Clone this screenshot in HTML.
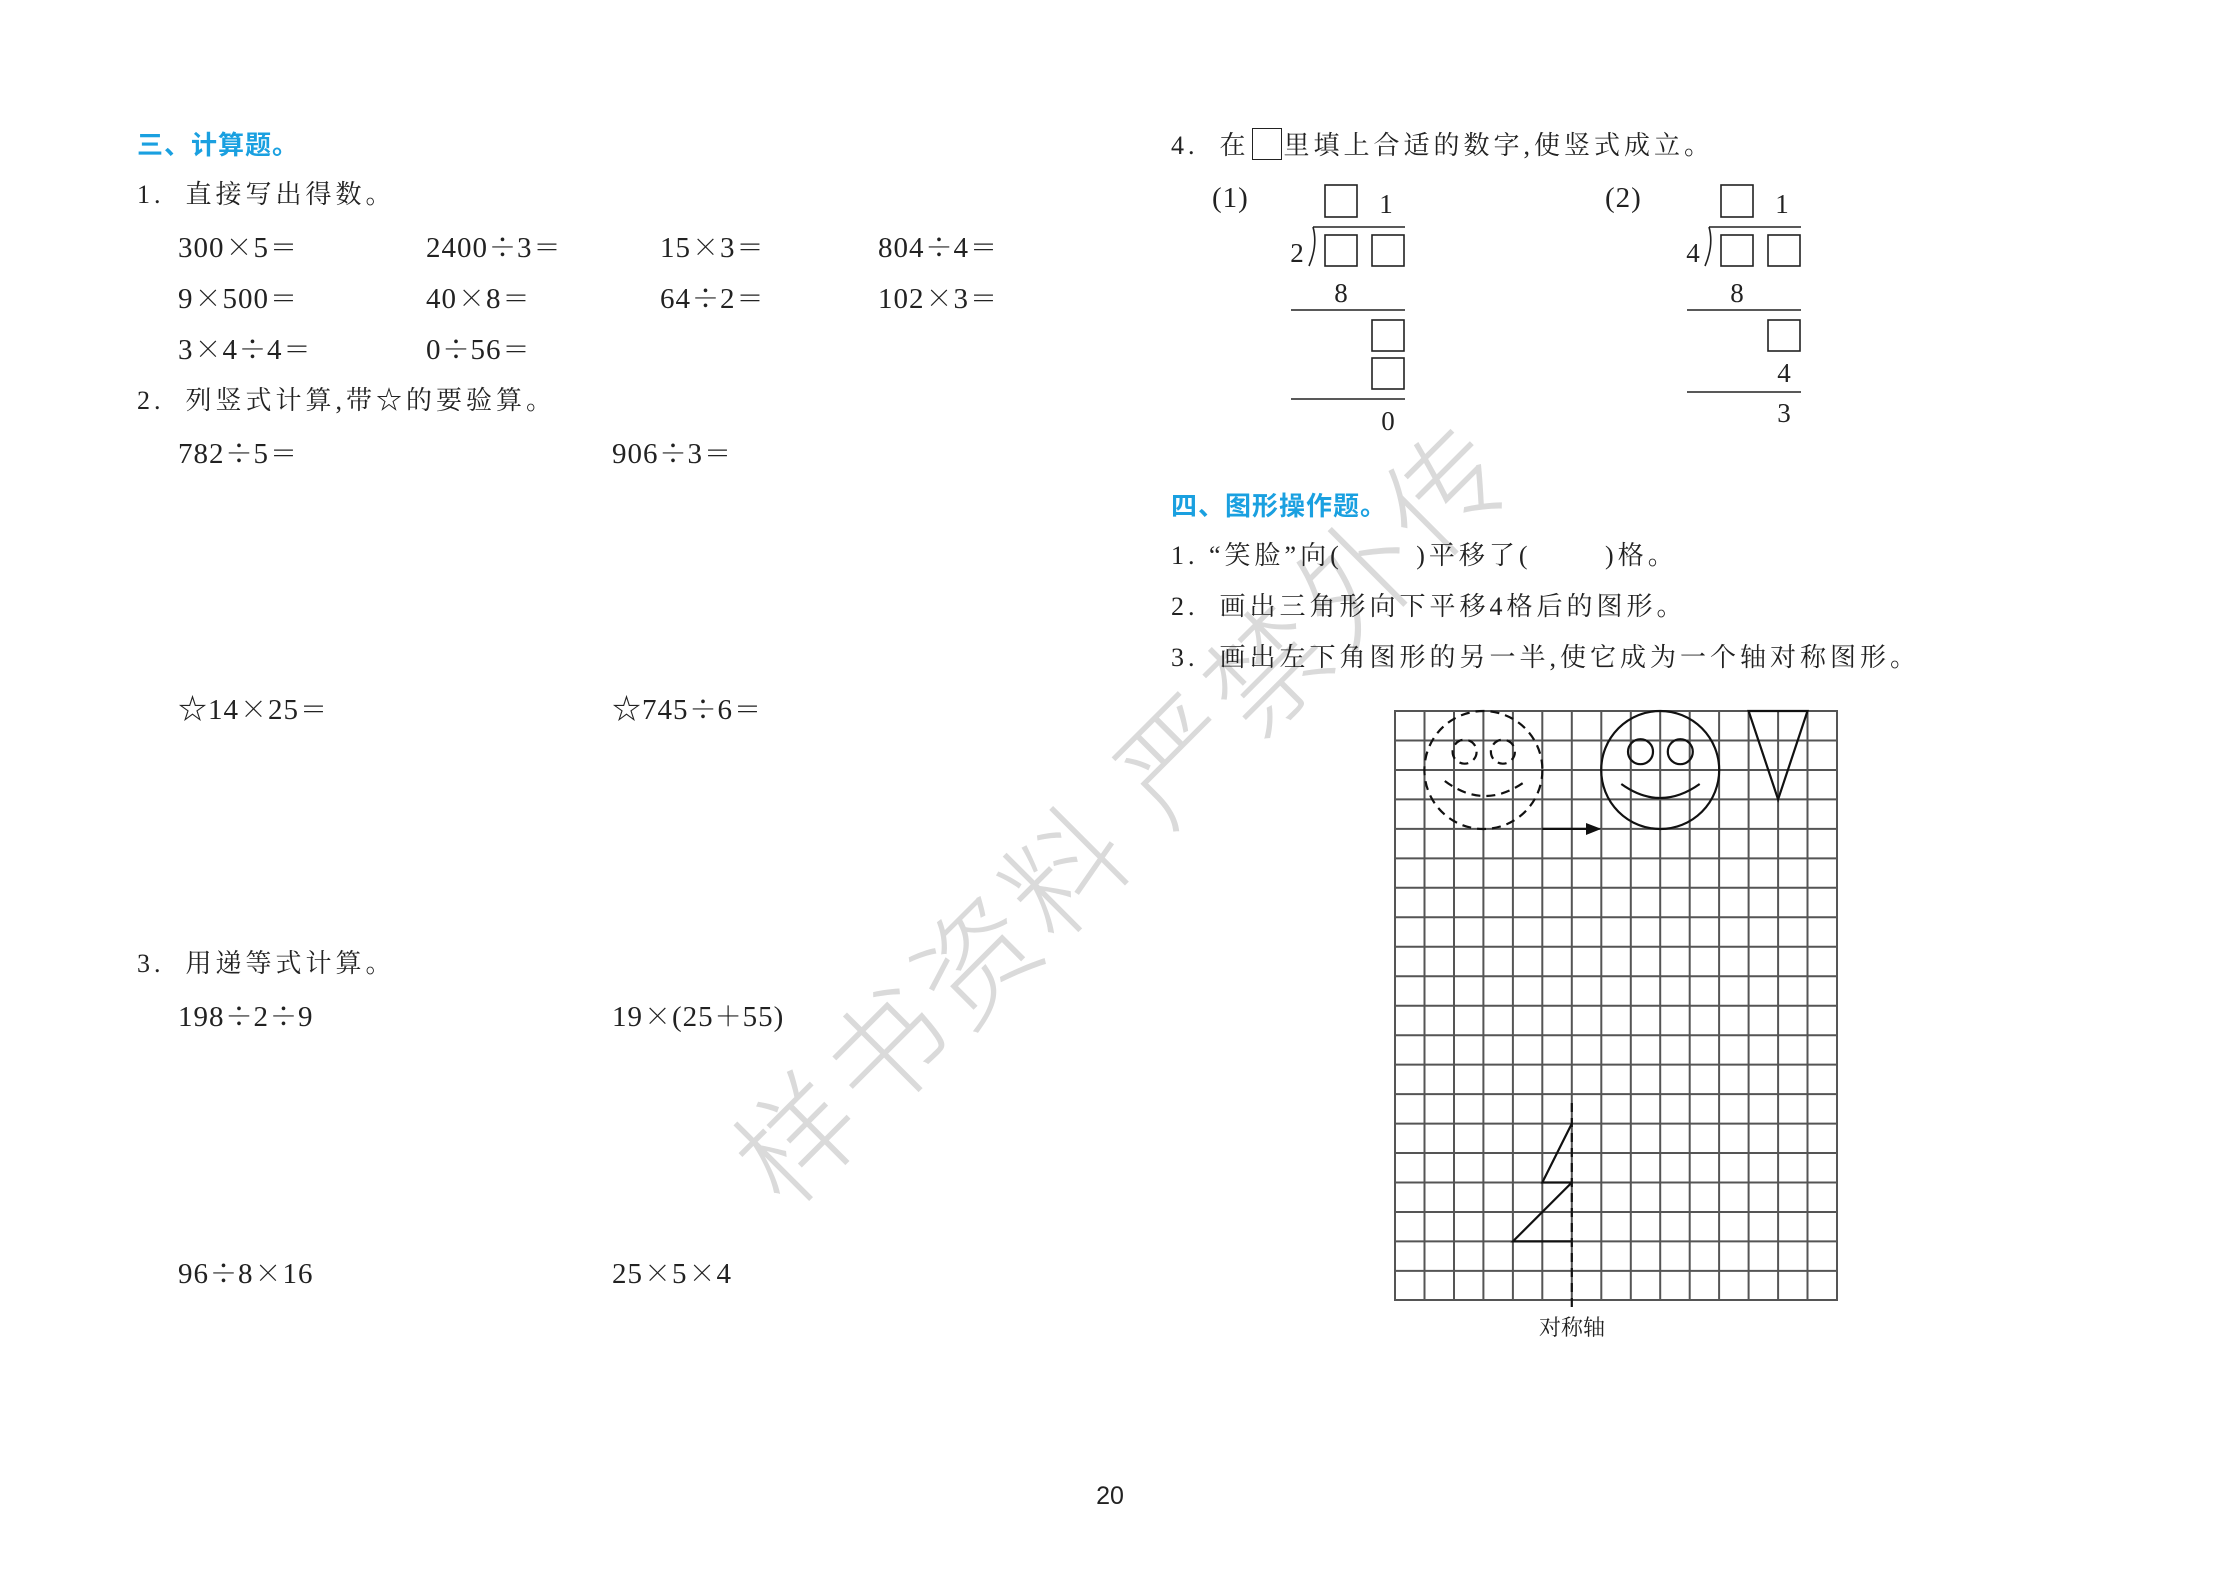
<!DOCTYPE html>
<html><head><meta charset="utf-8">
<style>
html,body{margin:0;padding:0;background:#fff}
#p{position:relative;width:2220px;height:1571px;overflow:hidden;font-family:"Liberation Serif","Noto Serif CJK SC",serif;color:#222}
.t{position:absolute;white-space:nowrap;line-height:40px;height:40px;font-size:26px;letter-spacing:4px}
.n{position:absolute;white-space:nowrap;line-height:40px;height:40px;font-size:29px;letter-spacing:1px}
.n i{font-style:normal;font-family:"Noto Serif CJK SC",serif;font-size:27px;letter-spacing:0;margin:0 1px}
.h{position:absolute;white-space:nowrap;line-height:40px;height:40px;font-size:26px;color:#1aa0e0;font-family:"Noto Sans CJK SC",sans-serif;font-weight:bold;letter-spacing:1px}
.wm{position:absolute;left:1119px;top:807px;transform:translate(-50%,-50%) rotate(-45deg);font-family:"Noto Sans CJK SC",sans-serif;font-size:118px;color:#dadada;white-space:nowrap;letter-spacing:8px;line-height:1;font-weight:300}
</style></head><body><div id="p">
<div class="wm">样书资料 严禁外传</div>

<div class="h" style="left:137px;top:124px">三、计算题。</div>
<div class="t" style="left:137px;top:175px">1.&nbsp; 直接写出得数。</div>
<div class="n" style="left:178px;top:226px">300<i>×</i>5<i>＝</i></div>
<div class="n" style="left:426px;top:226px">2400<i>÷</i>3<i>＝</i></div>
<div class="n" style="left:660px;top:226px">15<i>×</i>3<i>＝</i></div>
<div class="n" style="left:878px;top:226px">804<i>÷</i>4<i>＝</i></div>
<div class="n" style="left:178px;top:277px">9<i>×</i>500<i>＝</i></div>
<div class="n" style="left:426px;top:277px">40<i>×</i>8<i>＝</i></div>
<div class="n" style="left:660px;top:277px">64<i>÷</i>2<i>＝</i></div>
<div class="n" style="left:878px;top:277px">102<i>×</i>3<i>＝</i></div>
<div class="n" style="left:178px;top:328px">3<i>×</i>4<i>÷</i>4<i>＝</i></div>
<div class="n" style="left:426px;top:328px">0<i>÷</i>56<i>＝</i></div>
<div class="t" style="left:137px;top:381px">2.&nbsp; 列竖式计算,带☆的要验算。</div>
<div class="n" style="left:178px;top:432px">782<i>÷</i>5<i>＝</i></div>
<div class="n" style="left:612px;top:432px">906<i>÷</i>3<i>＝</i></div>
<div class="n" style="left:178px;top:688px">☆14<i>×</i>25<i>＝</i></div>
<div class="n" style="left:612px;top:688px">☆745<i>÷</i>6<i>＝</i></div>
<div class="t" style="left:137px;top:944px">3.&nbsp; 用递等式计算。</div>
<div class="n" style="left:178px;top:995px">198<i>÷</i>2<i>÷</i>9</div>
<div class="n" style="left:612px;top:995px">19<i>×</i>(25<i>＋</i>55)</div>
<div class="n" style="left:178px;top:1252px">96<i>÷</i>8<i>×</i>16</div>
<div class="n" style="left:612px;top:1252px">25<i>×</i>5<i>×</i>4</div>
<div style="position:absolute;left:1080px;top:1482px;width:60px;text-align:center;font-family:'Liberation Sans',sans-serif;font-size:25px">20</div>

<div class="t" style="left:1171px;top:126px">4.&nbsp; 在<span style="display:inline-block;width:28px;height:30px;border:1.5px solid #222;vertical-align:-6px;margin:0 2px"></span>里填上合适的数字,使竖式成立。</div>
<div class="n" style="left:1212px;top:178px">(1)</div>
<div class="n" style="left:1605px;top:178px">(2)</div>

<div class="h" style="left:1171px;top:485px">四、图形操作题。</div>
<div class="t" style="left:1171px;top:536px">1. “笑脸”向(&nbsp;&nbsp;&nbsp;&nbsp;&nbsp;&nbsp;&nbsp;)平移了(&nbsp;&nbsp;&nbsp;&nbsp;&nbsp;&nbsp;&nbsp;)格。</div>
<div class="t" style="left:1171px;top:587px">2.&nbsp; 画出三角形向下平移4格后的图形。</div>
<div class="t" style="left:1171px;top:638px">3.&nbsp; 画出左下角图形的另一半,使它成为一个轴对称图形。</div>
<div style="position:absolute;left:1522px;top:1312px;width:100px;text-align:center;font-size:22px;line-height:32px;font-family:'Liberation Serif','Noto Serif CJK SC',serif">对称轴</div>

<svg style="position:absolute;left:0;top:0" width="2220" height="1571" xmlns="http://www.w3.org/2000/svg">
<g fill="none" stroke="#222" stroke-width="1.6">
 <rect x="1325" y="185" width="32" height="32"/>
 <path d="M1313 227 H1405 M1313 227 Q1318 245 1309 266"/>
 <rect x="1325" y="235" width="32" height="31"/><rect x="1372" y="235" width="32" height="31"/>
 <path d="M1291 310 H1405"/>
 <rect x="1372" y="320" width="32" height="31"/><rect x="1372" y="358" width="32" height="31"/>
 <path d="M1291 399 H1405"/>
 <rect x="1721" y="185" width="32" height="32"/>
 <path d="M1709 227 H1801 M1709 227 Q1714 245 1705 266"/>
 <rect x="1721" y="235" width="32" height="31"/><rect x="1768" y="235" width="32" height="31"/>
 <path d="M1687 310 H1801"/>
 <rect x="1768" y="320" width="32" height="31"/>
 <path d="M1687 392 H1801"/>
</g>
<g font-family="Liberation Serif" font-size="27" fill="#222" text-anchor="middle">
 <text x="1386" y="213">1</text><text x="1297" y="262">2</text><text x="1341" y="302">8</text><text x="1388" y="430">0</text>
 <text x="1782" y="213">1</text><text x="1693" y="262">4</text><text x="1737" y="302">8</text><text x="1784" y="382">4</text><text x="1784" y="422">3</text>
</g>
<g stroke="#555" stroke-width="2" fill="none">
 <rect x="1395" y="711" width="442" height="589"/>
 <path d="M1424.5 711V1300M1454 711V1300M1483.4 711V1300M1512.9 711V1300M1542.3 711V1300M1571.8 711V1300M1601.3 711V1300M1630.8 711V1300M1660.2 711V1300M1689.7 711V1300M1719.1 711V1300M1748.6 711V1300M1778.1 711V1300M1807.5 711V1300"/>
 <path d="M1395 740.5H1837M1395 770H1837M1395 799.4H1837M1395 828.9H1837M1395 858.4H1837M1395 887.8H1837M1395 917.3H1837M1395 946.8H1837M1395 976.2H1837M1395 1005.7H1837M1395 1035.2H1837M1395 1064.6H1837M1395 1094.1H1837M1395 1123.6H1837M1395 1153H1837M1395 1182.5H1837M1395 1212H1837M1395 1241.4H1837M1395 1270.9H1837"/>
</g>
<g stroke="#111" stroke-width="2.2" fill="none">
 <g stroke-dasharray="9 6">
  <circle cx="1483.4" cy="770" r="59"/>
  <circle cx="1464.6" cy="751.7" r="12"/>
  <circle cx="1502.9" cy="751.7" r="12"/>
  <path d="M1444.8 781 Q1483.4 810 1522.9 783"/>
  <path d="M1571.8 1103 V1312"/>
 </g>
 <circle cx="1660.2" cy="770" r="59"/>
 <circle cx="1640.5" cy="751.7" r="12.5"/>
 <circle cx="1680.3" cy="751.7" r="12.5"/>
 <path d="M1621.3 784 Q1660.2 812 1699.7 784"/>
 <path d="M1748.6 711 L1807.5 711 L1778.1 799.4 Z"/>
 <path d="M1542.3 828.9 H1592"/>
 <path d="M1571.8 1123.6 L1542.3 1182.5 H1571.8 M1571.8 1182.5 L1512.9 1241.4 H1571.8"/>
</g>
<path d="M1601.3 828.9 L1586 823 L1586 835 Z" fill="#111"/>
</svg>
</div></body></html>
